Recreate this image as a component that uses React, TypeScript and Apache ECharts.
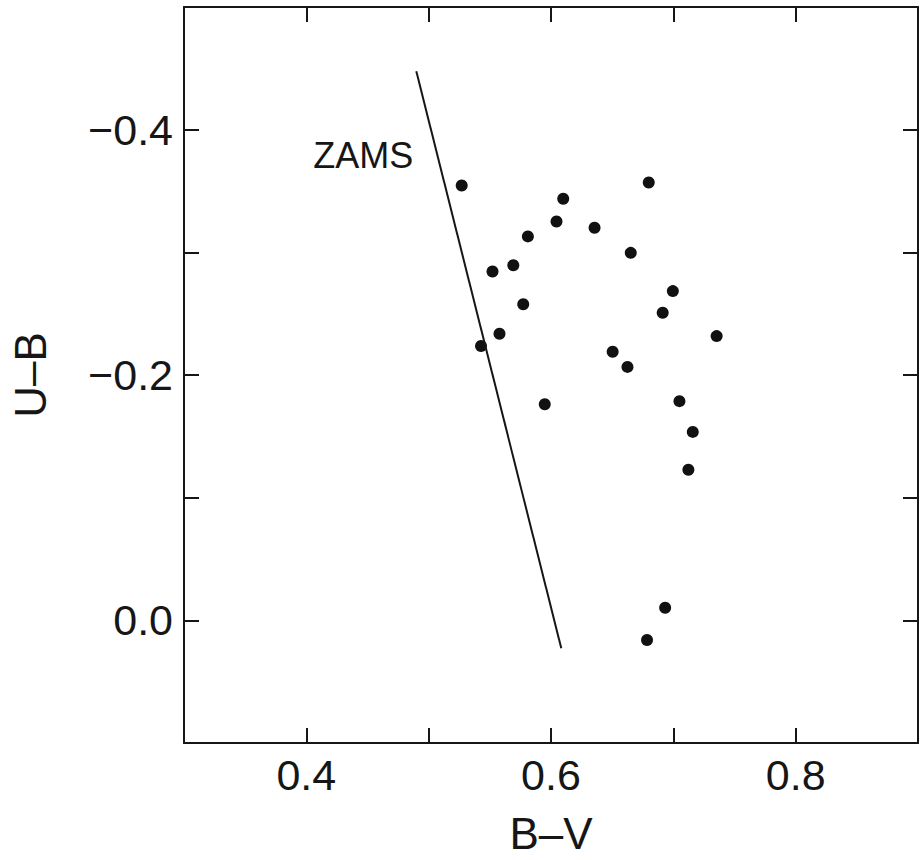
import React, { useEffect, useRef } from "react";
import * as echarts from "echarts";

// B–V and U–B colours of the stars
const bvValues = [
  0.527, 0.610, 0.6045, 0.6356, 0.5811, 0.5692, 0.5522, 0.6799, 0.6652, 0.6996,
  0.5773, 0.5579, 0.5428, 0.5949, 0.6913, 0.7354, 0.6504, 0.6625, 0.705, 0.7159,
  0.7123, 0.6933, 0.6785,
];
const ubValues = [
  -0.3545, -0.3437, -0.3251, -0.32, -0.313, -0.2895, -0.2844, -0.3569, -0.2996, -0.2684,
  -0.2577, -0.2336, -0.2236, -0.1761, -0.2508, -0.2317, -0.219, -0.2066, -0.1787, -0.1536,
  -0.1227, -0.0103, 0.016,
];

// ZAMS line end points
const zamsBV = [0.4899, 0.6084];
const zamsUB = [-0.4476, 0.0228];
const zamsLabelBV = 0.4874;
const zamsLabelUB = -0.379;

// Labelled ticks
const xLabelled = [0.4, 0.6, 0.8];
const yLabelled = [-0.4, -0.2, 0.0];

const FONT = "'Liberation Sans', Arial, Helvetica, sans-serif";
const INK = "#161616";

function fmt(v: number): string {
  if (Math.abs(v) < 1e-9) return "0.0";
  const s = Math.abs(v).toFixed(1);
  return v < 0 ? "\u2212" + s : s;
}

export default function App() {
  const ref = useRef<HTMLDivElement>(null);

  useEffect(() => {
    if (!ref.current) return;
    const chart = echarts.init(ref.current, undefined, { renderer: "svg" });

    const axisCommon = {
      type: "value" as const,
      interval: 0.1,
      splitLine: { show: false },
      axisLine: { show: true, onZero: false, lineStyle: { color: INK, width: 2 } },
      axisTick: { show: true, inside: true, length: 15, lineStyle: { color: INK, width: 2 } },
    };

    const isLabelled = (arr: number[], v: number) => arr.some((a) => Math.abs(a - v) < 1e-6);

    chart.setOption({
      animation: false,
      backgroundColor: "#ffffff",
      grid: { left: 176, right: 1, top: 7, bottom: 112, containLabel: false },
      xAxis: [
        {
          ...axisCommon,
          min: 0.3,
          max: 0.9,
          position: "bottom",
          name: "B\u2013V",
          nameLocation: "middle",
          nameGap: 68,
          nameTextStyle: { fontSize: 44, color: INK, fontFamily: FONT },
          axisLabel: {
            show: true,
            margin: 10,
            fontSize: 43,
            color: INK,
            fontFamily: FONT,
            formatter: (v: number) => (isLabelled(xLabelled, v) ? fmt(v) : ""),
          },
        },
        {
          ...axisCommon,
          min: 0.3,
          max: 0.9,
          position: "top",
          axisLabel: { show: false },
        },
      ],
      yAxis: [
        {
          ...axisCommon,
          min: -0.5,
          max: 0.1,
          inverse: true,
          position: "left",
          name: "U\u2013B",
          nameLocation: "middle",
          nameRotate: 90,
          nameGap: 132,
          nameTextStyle: { fontSize: 44, color: INK, fontFamily: FONT },
          axisLabel: {
            show: true,
            margin: 11,
            fontSize: 43,
            color: INK,
            fontFamily: FONT,
            formatter: (v: number) => (isLabelled(yLabelled, v) ? fmt(v) : ""),
          },
        },
        {
          ...axisCommon,
          min: -0.5,
          max: 0.1,
          inverse: true,
          position: "right",
          axisLabel: { show: false },
        },
      ],
      series: [
        {
          type: "line",
          data: zamsBV.map((x, i) => [x, zamsUB[i]]),
          symbol: "none",
          lineStyle: { color: INK, width: 2 },
          silent: true,
        },
        {
          type: "scatter",
          data: [[zamsLabelBV, zamsLabelUB]],
          symbolSize: 0,
          itemStyle: { opacity: 1 },
          label: {
            show: true,
            position: "left",
            distance: 0,
            formatter: "ZAMS",
            fontSize: 36,
            color: INK,
            opacity: 1,
            fontFamily: FONT,
          },
          silent: true,
        },
        {
          type: "scatter",
          data: bvValues.map((x, i) => [x, ubValues[i]]),
          symbol: "circle",
          symbolSize: 12,
          itemStyle: { color: "#111111", opacity: 1 },
        },
      ],
    });

    return () => chart.dispose();
  }, []);

  return (
    <div
      ref={ref}
      style={{ position: "absolute", left: 0, top: 0, width: 921, height: 860 }}
    />
  );
}
